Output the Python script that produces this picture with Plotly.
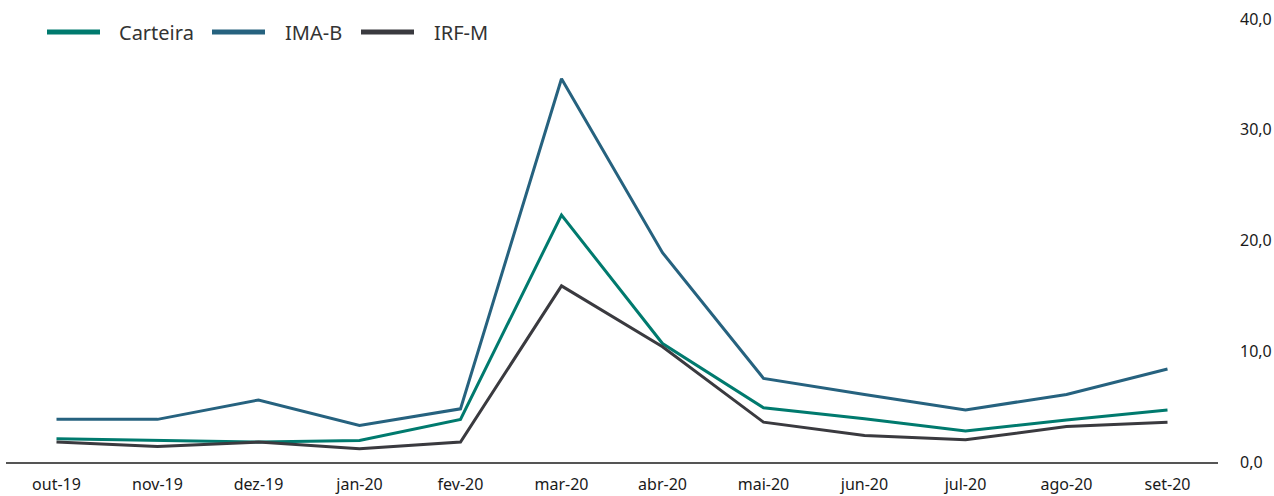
import plotly.graph_objects as go

categories = ["out-19", "nov-19", "dez-19", "jan-20", "fev-20", "mar-20",
              "abr-20", "mai-20", "jun-20", "jul-20", "ago-20", "set-20"]
carteira = [2.1, 1.95, 1.8, 1.95, 3.85, 22.3, 10.7, 4.9, 3.9, 2.8, 3.8, 4.7]
ima_b = [3.85, 3.85, 5.6, 3.3, 4.8, 34.6, 18.9, 7.55, 6.1, 4.7, 6.1, 8.4]
irf_m = [1.8, 1.4, 1.8, 1.2, 1.8, 15.9, 10.4, 3.6, 2.4, 2.0, 3.2, 3.6]
y_ticks = [0, 10, 20, 30, 40]

series_names = ["Carteira", "IMA-B", "IRF-M"]
series_values = [carteira, ima_b, irf_m]
series_colors = ["#007A6E", "#26627F", "#3A3A3F"]

W, H = 1274, 496
ML, MR, MT, MB = 6, 56, 19, 34
PW, PH = W - ML - MR, H - MT - MB


def px_x(px):
    return (px - ML) / PW


def px_y(py):
    return (H - MB - py) / PH


fig = go.Figure()
for name, vals, color in zip(series_names, series_values, series_colors):
    fig.add_trace(go.Scatter(x=categories, y=vals, name=name, mode="lines",
                             line=dict(color=color, width=3), showlegend=False,
                             hoverinfo="skip"))

# custom legend (line swatch + label), positioned in paper coordinates
legend_line_start = [47, 212, 361]
legend_text_start = [117, 283, 432]
legend_y = 32
shapes = []
annotations = []
for name, color, x0, xt in zip(series_names, series_colors,
                               legend_line_start, legend_text_start):
    shapes.append(dict(type="line", xref="paper", yref="paper",
                       x0=px_x(x0), x1=px_x(x0 + 53), y0=px_y(legend_y), y1=px_y(legend_y),
                       line=dict(color=color, width=5)))
    annotations.append(dict(text=name, xref="paper", yref="paper",
                            x=px_x(xt), y=px_y(legend_y), xanchor="left", yanchor="middle",
                            showarrow=False, font=dict(size=20, color="#333333")))

fig.update_layout(
    width=W, height=H,
    margin=dict(l=ML, r=MR, t=MT, b=MB),
    plot_bgcolor="white", paper_bgcolor="white",
    separators=",.",
    font=dict(family="Noto Sans, Open Sans, sans-serif", size=16, color="#1a1a1a"),
    showlegend=False,
    shapes=shapes,
    annotations=annotations,
    xaxis=dict(type="category", range=[-0.5, 11.5], showgrid=False, automargin=False,
               showline=True, linecolor="#555555", linewidth=2,
               ticks="", ticklabelstandoff=7, tickfont=dict(size=16)),
    yaxis=dict(side="right", range=[0, 40], tickvals=y_ticks, tickformat=".1f",
               showgrid=False, zeroline=False, showline=False, automargin=False,
               ticklabelstandoff=21, tickfont=dict(size=16)),
)

fig.write_html("out.html", config={"displayModeBar": False},
               post_script="document.body.style.margin='0';")
